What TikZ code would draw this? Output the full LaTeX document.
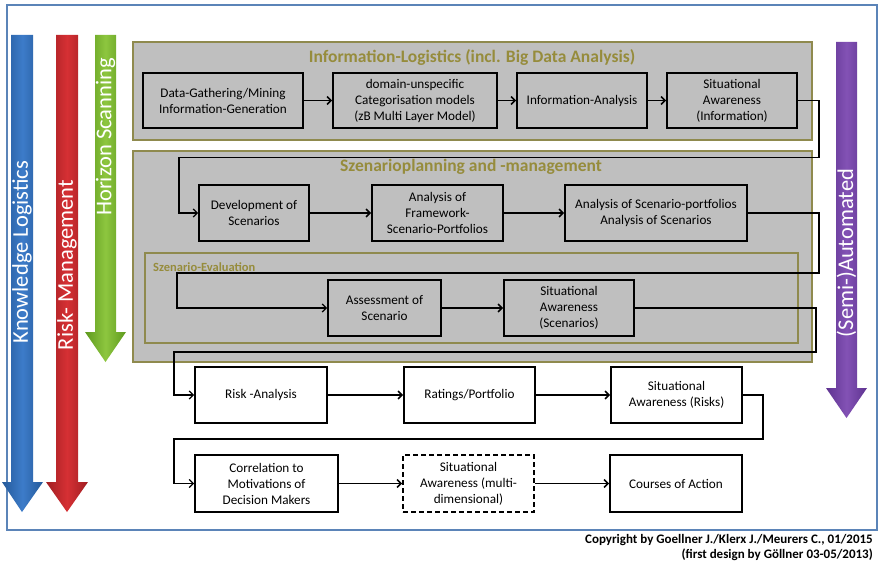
\documentclass[tikz,border=0pt]{standalone}
\usepackage{fontspec}
\setmainfont{Carlito}
\usetikzlibrary{arrows.meta}

\definecolor{panelgray}{HTML}{BFBFBF}
\definecolor{paneledge}{HTML}{8F8A4E}
\definecolor{paneltitle}{HTML}{968C3C}
\definecolor{frameblue}{HTML}{5B84B8}
\definecolor{blueD}{HTML}{24599A}
\definecolor{blueL}{HTML}{3D7CC9}
\definecolor{redD}{HTML}{A01E22}
\definecolor{redL}{HTML}{D63034}
\definecolor{greenD}{HTML}{5E9A1E}
\definecolor{greenL}{HTML}{8DC63F}
\definecolor{purpleD}{HTML}{5E3390}
\definecolor{purpleL}{HTML}{8352B5}

\tikzset{
  stepbox/.style={draw=black, line width=1.8pt, align=center, inner sep=2pt,
    font=\fontsize{13.2}{16}\selectfont},
  whitebox/.style={stepbox, fill=white},
  panel/.style={draw=paneledge, line width=1.6pt, fill=panelgray},
  subpanel/.style={draw=paneledge, line width=1.4pt},
  flow/.style={line width=1.5pt, -{Straight Barb[length=4pt,width=8pt]}},
  loopback/.style={line width=1.3pt, -{Straight Barb[length=4pt,width=8pt]}},
  paneltitle/.style={text=paneltitle, font=\fontsize{17.5}{19}\selectfont\bfseries},
  bandtext/.style={text=white, rotate=90, font=\fontsize{22.5}{24}\selectfont},
  credit/.style={anchor=east, font=\fontsize{13}{15}\selectfont\bfseries, inner sep=0pt}
}

\begin{document}
\begin{tikzpicture}[x=1pt, y=-1pt]
\useasboundingbox (0,0) rectangle (880,564);

% outer frame
\draw[frameblue, line width=1.2pt] (7,5) rectangle (877,530);

% vertical band arrows
\shade[left color=blueD, right color=blueD, middle color=blueL]
  (11,35) -- (33,35) -- (33,482) -- (43,482) -- (22,512) -- (2,482) -- (11,482) -- cycle;
\shade[left color=redD, right color=redD, middle color=redL]
  (56,35) -- (78,35) -- (78,482) -- (88,482) -- (67,512) -- (46,482) -- (56,482) -- cycle;
\shade[left color=greenD, right color=greenD, middle color=greenL]
  (95,35) -- (116,35) -- (116,332) -- (126,332) -- (105.5,362) -- (85,332) -- (95,332) -- cycle;
\shade[left color=purpleD, right color=purpleD, middle color=purpleL]
  (836,42) -- (857,42) -- (857,388) -- (867,388) -- (846.5,418) -- (826,388) -- (836,388) -- cycle;

\node[bandtext] (kl) at (22,252) {Knowledge Logistics};
\node[bandtext] (rm) at (67,265) {Risk- Management};
\node[bandtext] (hs) at (105.5,137) {Horizon Scanning};
\node[bandtext] (sa) at (846.5,253) {(Semi-)Automated};

% panels
\path[panel] (133,42) rectangle (812,140);
\path[panel] (133,151) rectangle (812,362);
\path[subpanel] (145,253) rectangle (798,343);

\node[paneltitle] (tinfo) at (472,57) {Information-Logistics (incl. Big Data Analysis)};
\node[paneltitle] (tscen) at (471,167) {Szenarioplanning and -management};
\node[text=paneltitle, font=\fontsize{12.5}{14}\selectfont\bfseries, anchor=west, inner sep=0pt]
  (teval) at (153,267) {Szenario-Evaluation};

% row 1
\node[stepbox, minimum width=160, minimum height=55] (dg) at (223,100.5)
  {Data-Gathering/Mining\\Information-Generation};
\node[stepbox, minimum width=164, minimum height=55] (dom) at (415,100.5)
  {domain-unspecific\\Categorisation models\\(zB Multi Layer Model)};
\node[stepbox, minimum width=130, minimum height=55] (ia) at (582,100.5)
  {Information-Analysis};
\node[stepbox, minimum width=130, minimum height=55] (sai) at (732,100.5)
  {Situational\\Awareness\\(Information)};

% row 2
\node[stepbox, minimum width=110, minimum height=56] (dev) at (254,213)
  {Development of\\Scenarios};
\node[stepbox, minimum width=131, minimum height=56] (fw) at (437.5,213)
  {Analysis of\\Framework-\\Scenario-Portfolios};
\node[stepbox, minimum width=182, minimum height=56] (asp) at (656,213)
  {Analysis of Scenario-portfolios\\Analysis of Scenarios};

% row 3
\node[stepbox, minimum width=113, minimum height=56] (ass) at (384.5,308)
  {Assessment of\\Scenario};
\node[stepbox, minimum width=130, minimum height=56] (sas) at (569,308)
  {Situational\\Awareness\\(Scenarios)};

% row 4
\node[whitebox, minimum width=132, minimum height=56] (risk) at (261,395)
  {Risk -Analysis};
\node[whitebox, minimum width=131, minimum height=56] (rat) at (469.5,395)
  {Ratings/Portfolio};
\node[whitebox, minimum width=131, minimum height=56] (sar) at (676.5,395)
  {Situational\\Awareness (Risks)};

% row 5
\node[whitebox, minimum width=143, minimum height=57] (cor) at (266.5,483.5)
  {Correlation to\\Motivations of\\Decision Makers};
\node[whitebox, dashed, dash pattern=on 5pt off 3pt, minimum width=131, minimum height=57] (sam) at (468.5,483.5)
  {Situational\\Awareness (multi-\\dimensional)};
\node[whitebox, minimum width=132, minimum height=57] (coa) at (676,483.5)
  {Courses of Action};

% straight flows
\draw[flow] (dg) -- (dom);
\draw[flow] (dom) -- (ia);
\draw[flow] (ia) -- (sai);
\draw[flow] (dev) -- (fw);
\draw[flow] (fw) -- (asp);
\draw[flow] (ass) -- (sas);
\draw[flow] (risk) -- (rat);
\draw[flow] (rat) -- (sar);
\draw[flow] (cor) -- (sam);
\draw[flow] (sam) -- (coa);

% loop-backs between rows
\draw[loopback] (sai.east) -- ++(21,0) -- ++(0,57) -| ([xshift=-19pt]dev.west) -- (dev.west);
\draw[loopback] (asp.east) -- ++(71,0) -- ++(0,60) -| ([xshift=-150pt]ass.west) -- (ass.west);
\draw[loopback] (sas.east) -- ++(181,0) -- ++(0,44) -| ([xshift=-20pt]risk.west) -- (risk.west);
\draw[loopback] (sar.east) -- ++(20,0) -- ++(0,44) -| ([xshift=-20pt]cor.west) -- (cor.west);

% credits
\node[credit] (c1) at (873,540) {Copyright by Goellner J./Klerx J./Meurers C., 01/2015};
\node[credit] (c2) at (873,555) {(first design by Göllner 03-05/2013)};
\end{tikzpicture}
\end{document}
